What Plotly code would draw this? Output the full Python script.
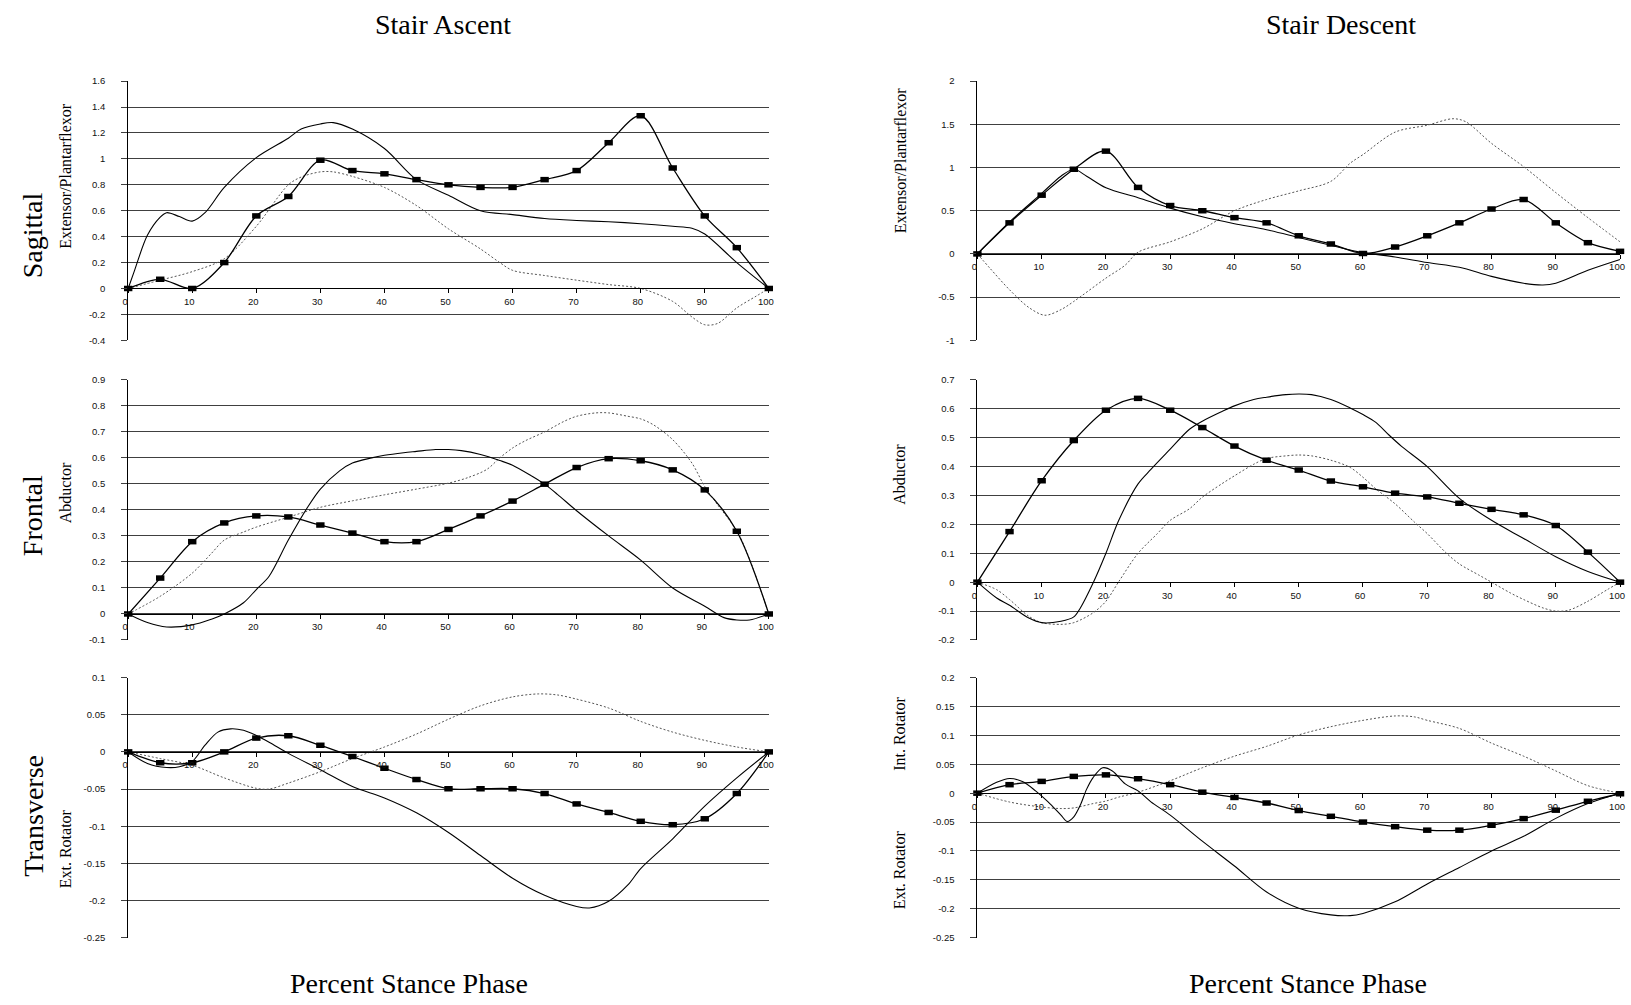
import plotly.graph_objects as go

# ---------------- data ----------------
pct_marks = [0, 5, 10, 15, 20, 25, 30, 35, 40, 45, 50, 55, 60, 65, 70, 75, 80, 85, 90, 95, 100]
x_ticks = [0, 10, 20, 30, 40, 50, 60, 70, 80, 90, 100]
x_tick_labels = ["0", "10", "20", "30", "40", "50", "60", "70", "80", "90", "100"]

# Sagittal - Stair Ascent
asc_sag_mark = [0, 0.071, 0, 0.20, 0.56, 0.71, 0.99, 0.91, 0.885, 0.84, 0.80, 0.78, 0.78, 0.84, 0.91, 1.125, 1.333, 0.93, 0.56, 0.315, 0]
asc_sag_solid_x = [0, 1, 3, 5, 6, 8, 10, 12, 15, 20, 25, 27, 30, 32, 35, 40, 45, 50, 55, 60, 65, 70, 75, 80, 85, 88, 90, 95, 100]
asc_sag_solid_y = [0, 0.14, 0.41, 0.55, 0.585, 0.555, 0.52, 0.585, 0.78, 1.01, 1.16, 1.23, 1.27, 1.28, 1.23, 1.08, 0.84, 0.72, 0.60, 0.57, 0.54, 0.525, 0.515, 0.50, 0.48, 0.465, 0.42, 0.20, 0]
asc_sag_dot_x = [0, 5, 10, 15, 20, 25, 27, 30, 32, 35, 40, 45, 50, 55, 58, 60, 65, 70, 75, 80, 85, 88, 90, 92, 95, 98, 100]
asc_sag_dot_y = [0, 0.064, 0.13, 0.23, 0.48, 0.80, 0.86, 0.90, 0.90, 0.865, 0.78, 0.64, 0.46, 0.305, 0.20, 0.14, 0.10, 0.064, 0.03, 0.0, -0.10, -0.22, -0.28, -0.27, -0.15, -0.06, 0]

# Sagittal - Stair Descent
desc_sag_mark = [0, 0.36, 0.68, 0.98, 1.19, 0.77, 0.56, 0.50, 0.42, 0.36, 0.21, 0.115, 0.005, 0.08, 0.21, 0.36, 0.52, 0.63, 0.36, 0.13, 0.03]
desc_sag_solid_x = [0, 5, 10, 13, 15, 17, 20, 25, 30, 35, 40, 45, 50, 55, 60, 65, 70, 75, 80, 85, 88, 90, 95, 100]
desc_sag_solid_y = [0, 0.37, 0.70, 0.90, 0.98, 0.90, 0.765, 0.65, 0.53, 0.43, 0.35, 0.28, 0.19, 0.10, 0.015, -0.035, -0.10, -0.155, -0.26, -0.34, -0.36, -0.34, -0.19, -0.065]
desc_sag_dot_x = [0, 2, 5, 8, 10.5, 13, 15, 20, 23, 25, 30, 35, 40, 45, 50, 55, 58, 60, 65, 70, 74, 76, 80, 85, 90, 95, 100]
desc_sag_dot_y = [0, -0.17, -0.415, -0.62, -0.71, -0.645, -0.55, -0.28, -0.13, 0.02, 0.14, 0.29, 0.50, 0.63, 0.73, 0.84, 1.05, 1.15, 1.41, 1.49, 1.565, 1.53, 1.28, 1.01, 0.71, 0.42, 0.14]

# Frontal - Stair Ascent
asc_fro_mark = [0, 0.138, 0.278, 0.35, 0.377, 0.373, 0.342, 0.311, 0.278, 0.278, 0.325, 0.377, 0.434, 0.499, 0.563, 0.597, 0.589, 0.554, 0.477, 0.318, 0]
asc_fro_solid_x = [0, 3, 6, 10, 13, 15, 18, 20, 22, 25, 28, 30, 33, 35, 38, 40, 43, 45, 48, 50, 52, 55, 58, 60, 63, 65, 67, 70, 75, 80, 85, 90, 93, 95, 97, 100]
asc_fro_solid_y = [0, -0.033, -0.05, -0.042, -0.02, 0.0, 0.043, 0.094, 0.145, 0.284, 0.41, 0.48, 0.55, 0.58, 0.60, 0.61, 0.62, 0.625, 0.632, 0.632, 0.628, 0.613, 0.59, 0.572, 0.53, 0.499, 0.46, 0.397, 0.30, 0.207, 0.10, 0.03, -0.014, -0.023, -0.023, 0]
asc_fro_dot_x = [0, 5, 10, 13, 15, 18, 20, 25, 30, 35, 40, 45, 50, 53, 56, 58, 60, 62, 65, 68, 70, 73, 75, 78, 80, 82, 85, 88, 90, 92, 95, 97, 100]
asc_fro_dot_y = [0, 0.068, 0.157, 0.233, 0.284, 0.315, 0.334, 0.372, 0.41, 0.435, 0.458, 0.48, 0.503, 0.524, 0.556, 0.60, 0.638, 0.666, 0.70, 0.74, 0.76, 0.773, 0.773, 0.76, 0.75, 0.727, 0.67, 0.58, 0.49, 0.42, 0.32, 0.21, 0]

# Frontal - Stair Descent
desc_fro_mark = [0, 0.175, 0.351, 0.49, 0.595, 0.636, 0.595, 0.535, 0.471, 0.422, 0.388, 0.35, 0.33, 0.308, 0.295, 0.273, 0.252, 0.233, 0.196, 0.104, 0]
desc_fro_solid_x = [0, 3, 5, 8, 10, 13, 15, 16, 18, 20, 22, 25, 27, 30, 33, 35, 38, 40, 43, 45, 48, 50, 52, 55, 58, 60, 62, 64, 66, 70, 75, 80, 85, 90, 95, 100]
desc_fro_solid_y = [0, -0.055, -0.08, -0.124, -0.14, -0.135, -0.12, -0.09, -0.003, 0.10, 0.214, 0.34, 0.39, 0.46, 0.529, 0.557, 0.59, 0.61, 0.632, 0.64, 0.649, 0.651, 0.649, 0.632, 0.603, 0.58, 0.553, 0.51, 0.47, 0.40, 0.29, 0.214, 0.151, 0.088, 0.037, 0]
desc_fro_dot_x = [0, 3, 5, 8, 10, 13, 15, 18, 20, 22, 25, 28, 30, 33, 35, 38, 40, 43, 45, 48, 50, 52, 55, 58, 60, 62, 65, 68, 70, 73, 75, 78, 80, 83, 85, 88, 90, 92, 95, 98, 100]
desc_fro_dot_y = [0, -0.026, -0.06, -0.118, -0.14, -0.146, -0.14, -0.106, -0.066, 0.002, 0.10, 0.168, 0.214, 0.254, 0.294, 0.34, 0.368, 0.408, 0.428, 0.437, 0.44, 0.437, 0.422, 0.397, 0.363, 0.323, 0.271, 0.208, 0.168, 0.10, 0.063, 0.025, 0.0, -0.038, -0.06, -0.089, -0.10, -0.097, -0.066, -0.026, 0]

# Transverse - Stair Ascent
asc_tra_mark = [0, -0.0146, -0.0146, 0.0, 0.0186, 0.0217, 0.0089, -0.0062, -0.022, -0.0372, -0.0496, -0.0496, -0.0496, -0.056, -0.070, -0.0815, -0.0934, -0.098, -0.090, -0.056, 0]
asc_tra_solid_x = [0, 3, 6, 8, 10, 12, 14, 16, 18, 20, 22, 25, 30, 35, 40, 45, 50, 55, 60, 65, 70, 72, 75, 78, 80, 85, 90, 95, 100]
asc_tra_solid_y = [0, -0.0155, -0.021, -0.020, -0.013, 0.009, 0.0266, 0.031, 0.029, 0.022, 0.013, -0.002, -0.024, -0.0465, -0.062, -0.082, -0.1085, -0.1395, -0.170, -0.193, -0.208, -0.210, -0.201, -0.179, -0.157, -0.117, -0.073, -0.035, 0]
asc_tra_dot_x = [0, 5, 10, 15, 20, 22, 25, 30, 35, 40, 45, 50, 55, 60, 64, 67, 70, 75, 80, 85, 90, 95, 100]
asc_tra_dot_y = [0, -0.009, -0.018, -0.035, -0.049, -0.050, -0.042, -0.0266, -0.009, 0.0066, 0.024, 0.044, 0.062, 0.074, 0.078, 0.0766, 0.071, 0.059, 0.041, 0.0266, 0.0155, 0.0066, 0]

# Transverse - Stair Descent
desc_tra_mark = [0, 0.0147, 0.0204, 0.029, 0.0317, 0.025, 0.0147, 0.0017, -0.0074, -0.017, -0.030, -0.040, -0.050, -0.058, -0.064, -0.064, -0.0555, -0.044, -0.0294, -0.014, -0.001]
desc_tra_solid_x = [0, 3, 5, 7, 9, 11, 13, 14, 15, 16, 17, 18, 19.5, 21, 23, 25, 27, 30, 35, 40, 45, 50, 55, 58, 60, 65, 70, 75, 80, 85, 90, 95, 100]
desc_tra_solid_y = [0, 0.0187, 0.0255, 0.02, 0.0045, -0.015, -0.038, -0.049, -0.041, -0.021, 0.007, 0.027, 0.044, 0.0385, 0.016, 0.004, -0.015, -0.038, -0.083, -0.126, -0.171, -0.199, -0.2106, -0.2118, -0.208, -0.188, -0.157, -0.1285, -0.100, -0.0747, -0.0436, -0.018, 0]
desc_tra_dot_x = [0, 5, 10, 13, 15, 18, 20, 22, 25, 30, 35, 40, 45, 50, 55, 60, 65, 68, 70, 75, 80, 85, 90, 95, 100]
desc_tra_dot_y = [0, -0.0153, -0.024, -0.0266, -0.0255, -0.018, -0.0136, -0.0068, 0.0017, 0.0215, 0.044, 0.064, 0.081, 0.1008, 0.115, 0.126, 0.1336, 0.132, 0.126, 0.112, 0.0866, 0.064, 0.0385, 0.013, 0]

# y tick values
sag_asc_yticks = [-0.4, -0.2, 0, 0.2, 0.4, 0.6, 0.8, 1, 1.2, 1.4, 1.6]
sag_desc_yticks = [-1, -0.5, 0, 0.5, 1, 1.5, 2]
fro_asc_yticks = [-0.1, 0, 0.1, 0.2, 0.3, 0.4, 0.5, 0.6, 0.7, 0.8, 0.9]
fro_desc_yticks = [-0.2, -0.1, 0, 0.1, 0.2, 0.3, 0.4, 0.5, 0.6, 0.7]
tra_asc_yticks = [-0.25, -0.2, -0.15, -0.1, -0.05, 0, 0.05, 0.1]
tra_desc_yticks = [-0.25, -0.2, -0.15, -0.1, -0.05, 0, 0.05, 0.1, 0.15, 0.2]

# ---------------- layout geometry ----------------
W, H = 1631, 1005
col_px = [(123, 768), (978, 1625)]
row_px = [(76, 338), (378, 641), (679, 942)]

panels = [
    # (row, col, mark, solid_x, solid_y, dot_x, dot_y, yticks)
    (0, 0, asc_sag_mark, asc_sag_solid_x, asc_sag_solid_y, asc_sag_dot_x, asc_sag_dot_y, sag_asc_yticks),
    (0, 1, desc_sag_mark, desc_sag_solid_x, desc_sag_solid_y, desc_sag_dot_x, desc_sag_dot_y, sag_desc_yticks),
    (1, 0, asc_fro_mark, asc_fro_solid_x, asc_fro_solid_y, asc_fro_dot_x, asc_fro_dot_y, fro_asc_yticks),
    (1, 1, desc_fro_mark, desc_fro_solid_x, desc_fro_solid_y, desc_fro_dot_x, desc_fro_dot_y, fro_desc_yticks),
    (2, 0, asc_tra_mark, asc_tra_solid_x, asc_tra_solid_y, asc_tra_dot_x, asc_tra_dot_y, tra_asc_yticks),
    (2, 1, desc_tra_mark, desc_tra_solid_x, desc_tra_solid_y, desc_tra_dot_x, desc_tra_dot_y, tra_desc_yticks),
]

fig = go.Figure()
layout = dict(
    width=W, height=H, margin=dict(l=0, r=0, t=0, b=0),
    paper_bgcolor="white", plot_bgcolor="white", showlegend=False,
)

tick_font = dict(family="Liberation Sans, Arial", size=9.5, color="#111")
grid_col = "#404040"

for i, (r, c, mark, sx, sy, dx, dy, yt) in enumerate(panels):
    n = i + 1
    xs = "" if n == 1 else str(n)
    xd = [col_px[c][0] / W, col_px[c][1] / W]
    yd = [1 - row_px[r][1] / H, 1 - row_px[r][0] / H]
    ymin, ymax = yt[0], yt[-1]
    zero_pos = yd[0] + (0 - ymin) / (ymax - ymin) * (yd[1] - yd[0])

    layout["xaxis" + xs] = dict(
        domain=xd, range=[0, 100], anchor="free", position=zero_pos,
        showgrid=False, zeroline=False, showline=True, linecolor="black", linewidth=1,
        tickmode="array", tickvals=x_ticks, ticktext=x_tick_labels,
        ticks="outside", ticklen=4, tickcolor="black", tickwidth=1,
        tickfont=tick_font, ticklabelshift=-3, fixedrange=True,
    )
    layout["yaxis" + xs] = dict(
        domain=yd, range=[ymin, ymax], anchor="x" + xs,
        showgrid=True, gridcolor=grid_col, gridwidth=1, zeroline=False,
        showline=True, linecolor="black", linewidth=1,
        tickmode="array", tickvals=yt, ticktext=[f"{v:g}" for v in yt],
        ticks="outside", ticklen=6, tickcolor=grid_col, tickwidth=1,
        tickfont=tick_font, ticklabelstandoff=14, fixedrange=True,
    )

    xa, ya = "x" + xs, "y" + xs
    fig.add_trace(go.Scatter(
        x=dx, y=dy, mode="lines", xaxis=xa, yaxis=ya,
        line=dict(color="#555555", width=1, dash="2px,2px", shape="spline", smoothing=0.9),
        hoverinfo="skip"))
    fig.add_trace(go.Scatter(
        x=sx, y=sy, mode="lines", xaxis=xa, yaxis=ya,
        line=dict(color="black", width=1.1, shape="spline", smoothing=0.9),
        hoverinfo="skip"))
    fig.add_trace(go.Scatter(
        x=pct_marks, y=mark, mode="lines+markers", xaxis=xa, yaxis=ya,
        line=dict(color="black", width=1.3, shape="spline", smoothing=0.9),
        marker=dict(symbol="line-ew", size=6, color="black",
                    line=dict(color="black", width=5.5)),
        cliponaxis=False, hoverinfo="skip"))

serif = "Liberation Serif, Times New Roman, serif"
ann = []


def txt(text, xpx, ypx, size, angle=0):
    ann.append(dict(text=text, x=xpx / W, y=1 - ypx / H, xref="paper", yref="paper",
                    xanchor="center", yanchor="middle", showarrow=False, textangle=angle,
                    font=dict(family=serif, size=size, color="black")))


txt("Stair Ascent", 440, 19, 28)
txt("Stair Descent", 1344, 19, 28)
txt("Percent Stance Phase", 406, 988, 28)
txt("Percent Stance Phase", 1311, 988, 28)

txt("Sagittal", 27, 232, 28, -90)
txt("Frontal", 27, 515, 28, -90)
txt("Transverse", 27, 819, 28, -90)

txt("Extensor/Plantarflexor", 60, 172, 16, -90)
txt("Abductor", 60, 492, 16, -90)
txt("Ext. Rotator", 60, 852, 16, -90)

txt("Extensor/Plantarflexor", 900, 156, 16, -90)
txt("Abductor", 900, 473, 16, -90)
txt("Int. Rotator", 900, 736, 16, -90)
txt("Ext. Rotator", 900, 873, 16, -90)

layout["annotations"] = ann
fig.update_layout(**layout)
fig.write_html(
    "out.html",
    config={"displayModeBar": False, "staticPlot": True},
    post_script="document.body.style.margin='0';document.body.style.overflow='hidden';",
)
